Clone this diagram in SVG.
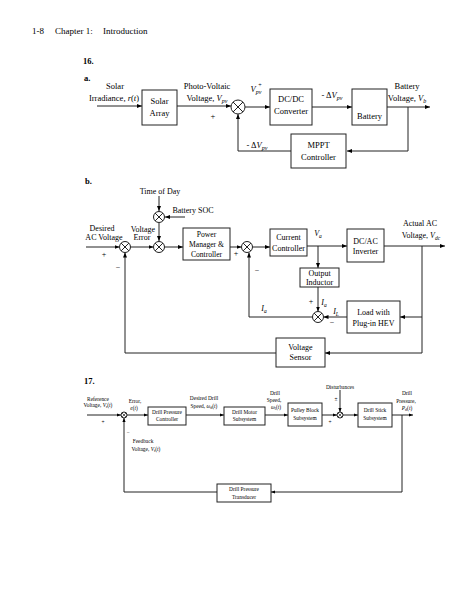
<svg xmlns="http://www.w3.org/2000/svg" width="474" height="613" viewBox="0 0 474 613">
<defs>
<marker id="ar" viewBox="0 0 10 10" refX="10" refY="5" markerWidth="5" markerHeight="5" markerUnits="userSpaceOnUse" orient="auto"><path d="M0,1 L10,5 L0,9 z" fill="#000"/></marker>
<marker id="ars" viewBox="0 0 10 10" refX="10" refY="5" markerWidth="4" markerHeight="4" markerUnits="userSpaceOnUse" orient="auto"><path d="M0,1 L10,5 L0,9 z" fill="#000"/></marker>
</defs>
<style>
text{font-family:"Liberation Serif","Times New Roman",serif;fill:#000;text-anchor:middle}
.a{font-size:8.5px}
.b{font-size:8px}
.bb{font-size:7.6px}
.c{font-size:5.4px}
.h{font-size:9px;text-anchor:start}
.bold{font-weight:bold;text-anchor:start;font-size:8.5px}
rect{fill:#fff;stroke:#222;stroke-width:1}
.w{fill:none;stroke:#222;stroke-width:1}
.m{marker-end:url(#ar)}
.s{marker-end:url(#ars)}
circle{fill:#fff;stroke:#222;stroke-width:1}
</style>
<rect x="0" y="0" width="474" height="613" style="stroke:none"/>
<text class="h" x="32" y="34">1-8<tspan x="55">Chapter 1:</tspan><tspan x="103">Introduction</tspan></text>
<text class="bold" x="83" y="64">16.</text>
<text class="bold" x="84" y="81">a.</text>

<!-- Part a -->
<g id="a-connectors">
<path class="w m" d="M97,106 H142"/>
<path class="w m" d="M177,106 H231"/>
<path class="w m" d="M245,107 H270"/>
<path class="w m" d="M312,107 H352"/>
<path class="w m" d="M387,107 H430"/>
<path class="w m" d="M408,107 V151 H347"/>
<path class="w m" d="M291,151 H238 V114"/>
</g>
<g id="a-solar"><rect x="142" y="90" width="35" height="35"/><text class="a" x="159.5" y="104">Solar</text><text class="a" x="159.5" y="116">Array</text></g>
<g id="a-sum"><circle cx="238" cy="107" r="7"/><path class="w" d="M233,102 L243,112 M243,102 L233,112"/></g>
<g id="a-dcdc"><rect x="270" y="89" width="42" height="36"/><text class="a" x="291" y="102">DC/DC</text><text class="a" x="291" y="114">Converter</text></g>
<g id="a-battery"><rect x="352" y="89" width="35" height="36"/><text class="a" x="369.5" y="119">Battery</text></g>
<g id="a-mppt"><rect x="291" y="134" width="55" height="34"/><text class="a" x="318.5" y="148">MPPT</text><text class="a" x="318.5" y="160">Controller</text></g>
<text class="a" x="115" y="89">Solar</text>
<text class="a" x="114" y="101">Irradiance, <tspan font-style="italic">r</tspan>(<tspan font-style="italic">t</tspan>)</text>
<text class="a" x="207" y="89">Photo-Voltaic</text>
<text class="a" x="207" y="101">Voltage, <tspan font-style="italic">V</tspan><tspan font-style="italic" font-size="6" dy="2">pv</tspan></text>
<text class="a" x="213" y="119">+</text>
<text class="a" x="256" y="92"><tspan font-style="italic">V</tspan><tspan font-style="italic" font-size="6" dy="2">pv</tspan></text>
<text x="260" y="87" font-size="6">+</text>
<text class="a" x="332" y="98">- Δ<tspan font-style="italic">V</tspan><tspan font-style="italic" font-size="6" dy="2">pv</tspan></text>
<text class="a" x="407" y="89">Battery</text>
<text class="a" x="407" y="101">Voltage, <tspan font-style="italic">V</tspan><tspan font-style="italic" font-size="6" dy="2">b</tspan></text>
<text class="a" x="257" y="148">- Δ<tspan font-style="italic">V</tspan><tspan font-style="italic" font-size="6" dy="2">pv</tspan></text>

<!-- Part b -->
<text class="bold" x="85" y="184">b.</text>
<g id="b-connectors">
<path class="w m" d="M159,196 V211"/>
<path class="w m" d="M185,217 H165"/>
<path class="w m" d="M159,223 V241"/>
<path class="w m" d="M86,247 H119.5"/>
<path class="w m" d="M130.5,247 H153.5"/>
<path class="w m" d="M164.5,247 H183"/>
<path class="w m" d="M230,247 H241.5"/>
<path class="w m" d="M252.5,247 H270"/>
<path class="w m" d="M307,246 H347"/>
<path class="w m" d="M318,246 V268"/>
<path class="w m" d="M384,246 H445"/>
<path class="w m" d="M318,287 V311.5"/>
<path class="w m" d="M422,246 V317 H400"/>
<path class="w m" d="M347,317 H323.5"/>
<path class="w m" d="M312.5,317 H249 V252.5"/>
<path class="w m" d="M422,317 V353 H325"/>
<path class="w m" d="M276,353 H125 V252.5"/>
</g>
<g id="b-sum-tod"><circle cx="159" cy="217" r="5.5"/><path class="w" d="M155.1,213.1 L162.9,220.9 M162.9,213.1 L155.1,220.9"/></g>
<g id="b-sum-err"><circle cx="125" cy="247" r="5.5"/><path class="w" d="M121.1,243.1 L128.9,250.9 M128.9,243.1 L121.1,250.9"/></g>
<g id="b-sum-main"><circle cx="159" cy="247" r="5.5"/><path class="w" d="M155.1,243.1 L162.9,250.9 M162.9,243.1 L155.1,250.9"/></g>
<g id="b-sum-cur"><circle cx="247" cy="247" r="5.5"/><path class="w" d="M243.1,243.1 L250.9,250.9 M250.9,243.1 L243.1,250.9"/></g>
<g id="b-sum-ia"><circle cx="318" cy="317" r="5.5"/><path class="w" d="M314.1,313.1 L321.9,320.9 M321.9,313.1 L314.1,320.9"/></g>
<g id="b-power"><rect x="183" y="228" width="47" height="32"/><text class="bb" x="206.5" y="236.5">Power</text><text class="bb" x="206.5" y="246.5">Manager &amp;</text><text class="bb" x="206.5" y="256.5">Controller</text></g>
<g id="b-current"><rect x="270" y="229" width="37" height="27"/><text class="b" x="288.5" y="240">Current</text><text class="b" x="288.5" y="250.5">Controller</text></g>
<g id="b-dcac"><rect x="347" y="229" width="37" height="33"/><text class="b" x="365.5" y="244">DC/AC</text><text class="b" x="365.5" y="254">Inverter</text></g>
<g id="b-inductor"><rect x="300" y="268" width="39" height="19"/><text class="b" x="319.5" y="276">Output</text><text class="b" x="319.5" y="284.5">Inductor</text></g>
<g id="b-load"><rect x="347" y="301" width="53" height="32"/><text class="b" x="373.5" y="315">Load with</text><text class="b" x="373.5" y="326">Plug-in HEV</text></g>
<g id="b-sensor"><rect x="276" y="338" width="49" height="29"/><text class="b" x="300.5" y="350">Voltage</text><text class="b" x="300.5" y="360">Sensor</text></g>
<text class="b" x="160" y="194">Time of Day</text>
<text class="b" x="193" y="213">Battery SOC</text>
<text class="b" x="102" y="231">Desired</text>
<text class="b" x="104" y="240">AC Voltage</text>
<text class="b" x="143" y="232">Voltage</text>
<text class="b" x="142" y="240">Error</text>
<text class="b" x="104" y="257">+</text>
<text class="b" x="118" y="270">−</text>
<text class="b" x="236" y="256">+</text>
<text class="b" x="257" y="273">−</text>
<text class="b" x="318" y="236"><tspan font-style="italic">V</tspan><tspan font-style="italic" font-size="5.5" dy="1.5">a</tspan></text>
<text class="b" x="420" y="226">Actual AC</text>
<text class="b" x="421" y="238">Voltage, <tspan font-style="italic">V</tspan><tspan font-style="italic" font-size="5.5" dy="1.5">dc</tspan></text>
<text class="b" x="311" y="304">+</text>
<text class="b" x="324" y="305"><tspan font-style="italic">I</tspan><tspan font-style="italic" font-size="5.5" dy="1.5">a</tspan></text>
<text class="b" x="336" y="314"><tspan font-style="italic">I</tspan><tspan font-style="italic" font-size="5.5" dy="1.5">L</tspan></text>
<text class="b" x="332" y="325">−</text>
<text class="b" x="264" y="311"><tspan font-style="italic">I</tspan><tspan font-style="italic" font-size="5.5" dy="1.5">a</tspan></text>

<!-- Part 17 -->
<text class="bold" x="84" y="384">17.</text>
<g id="c-connectors">
<path class="w s" d="M87,415 H121"/>
<path class="w s" d="M127,415 H148"/>
<path class="w s" d="M186,415 H224"/>
<path class="w s" d="M265,415 H288"/>
<path class="w s" d="M322,415 H337"/>
<path class="w s" d="M340,390 V412"/>
<path class="w s" d="M343,415 H358"/>
<path class="w s" d="M392,415 H413"/>
<path class="w s" d="M402,415 V492 H271"/>
<path class="w s" d="M217,492 H124 V418"/>
</g>
<g id="c-sum1"><circle cx="124" cy="415" r="3"/><path class="w" d="M121.9,412.9 L126.1,417.1 M126.1,412.9 L121.9,417.1" style="stroke-width:0.7"/></g>
<g id="c-sum2"><circle cx="340" cy="415" r="3"/><path class="w" d="M337.9,412.9 L342.1,417.1 M342.1,412.9 L337.9,417.1" style="stroke-width:0.7"/></g>
<g id="c-dpc"><rect x="148" y="407" width="38" height="18"/><text class="c" x="167" y="414">Drill Pressure</text><text class="c" x="167" y="421">Controller</text></g>
<g id="c-motor"><rect x="224" y="407" width="41" height="18"/><text class="c" x="244.5" y="414">Drill Motor</text><text class="c" x="244.5" y="421">Subsystem</text></g>
<g id="c-pulley"><rect x="288" y="403" width="34" height="23"/><text class="c" x="305" y="412">Pulley Block</text><text class="c" x="305" y="420">Subsystem</text></g>
<g id="c-stick"><rect x="358" y="403" width="34" height="24"/><text class="c" x="375" y="412">Drill Stick</text><text class="c" x="375" y="420">Subsystem</text></g>
<g id="c-trans"><rect x="217" y="484" width="54" height="18"/><text class="c" x="244" y="491">Drill Pressure</text><text class="c" x="244" y="499">Transducer</text></g>
<text class="c" x="98" y="401">Reference</text>
<text class="c" x="98" y="407">Voltage, <tspan font-style="italic">V</tspan><tspan font-size="4" dy="1">r</tspan><tspan dy="-1">(<tspan font-style="italic">t</tspan>)</tspan></text>
<text class="c" x="103" y="424">+</text>
<text class="c" x="135" y="403">Error,</text>
<text class="c" x="134" y="410"><tspan font-style="italic">e</tspan>(<tspan font-style="italic">t</tspan>)</text>
<text class="c" x="128" y="434">−</text>
<text class="c" x="143" y="443">Feedback</text>
<text class="c" x="146" y="451">Voltage, <tspan font-style="italic">V</tspan><tspan font-size="4" dy="1">f</tspan><tspan dy="-1">(<tspan font-style="italic">t</tspan>)</tspan></text>
<text class="c" x="204" y="400">Desired Drill</text>
<text class="c" x="204" y="408">Speed, <tspan font-style="italic">ω</tspan><tspan font-size="4" dy="1">d</tspan><tspan dy="-1">(<tspan font-style="italic">t</tspan>)</tspan></text>
<text class="c" x="275" y="395">Drill</text>
<text class="c" x="274" y="402">Speed,</text>
<text class="c" x="276" y="409"><tspan font-style="italic">ω</tspan><tspan font-size="4" dy="1">l</tspan><tspan dy="-1">(<tspan font-style="italic">t</tspan>)</tspan></text>
<text class="c" x="340" y="389">Disturbances</text>
<text class="c" x="336" y="401">±</text>
<text class="c" x="330" y="424">+</text>
<text class="c" x="407" y="395">Drill</text>
<text class="c" x="406" y="403">Pressure,</text>
<text class="c" x="407" y="410"><tspan font-style="italic">P</tspan><tspan font-size="4" dy="1">d</tspan><tspan dy="-1">(<tspan font-style="italic">t</tspan>)</tspan></text>
</svg>
